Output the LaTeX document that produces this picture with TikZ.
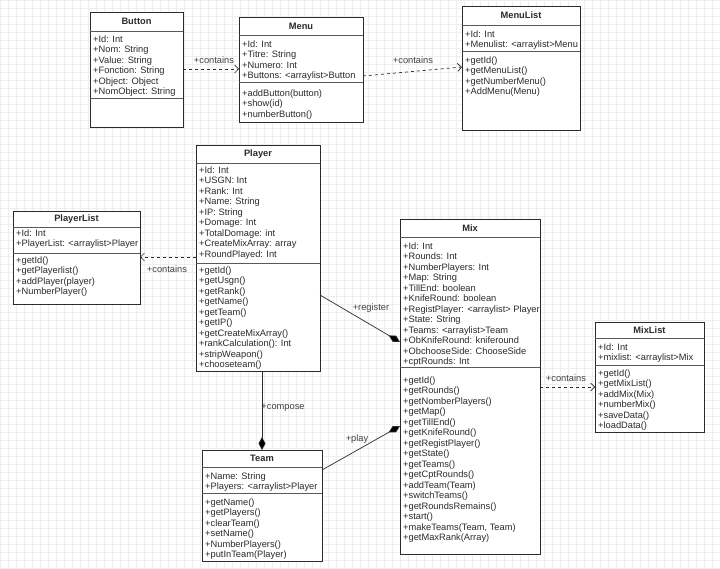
\documentclass[tikz,border=0pt]{standalone}
\usepackage{fontspec}
\setmainfont{Liberation Sans}
\usetikzlibrary{arrows.meta}
\definecolor{gridc}{HTML}{EEEEEE}
\definecolor{inkc}{HTML}{2B2B2B}
\tikzset{
  classbox/.style={draw=inkc, fill=white, line width=0.8pt, inner sep=0pt, outer sep=0pt, anchor=north west},
  sepline/.style={draw=black!65, line width=0.8pt},
  ctitle/.style={font=\fontsize{9.3}{10.5}\selectfont\bfseries, text=inkc, inner sep=0pt},
  members/.style={font=\fontsize{9.3}{10.5}\selectfont, text=inkc, align=left, inner sep=0pt, anchor=north west, yshift=-2.5pt, execute at begin node=\strut},
  lbl/.style={font=\fontsize{9.3}{10.5}\selectfont, text=black!75, inner sep=0pt},
  dep/.style={draw=inkc, line width=0.7pt, dash pattern=on 3pt off 3pt, -{Straight Barb[length=4pt,width=8pt]}},
  comp/.style={draw=inkc, line width=0.7pt, -{Diamond[length=13pt,width=7pt,fill=black]}},
}
\newcommand\umlclass[8]{%
  \node[classbox, minimum width=#4pt-#2pt, minimum height=#5pt-#3pt] (#1) at (#2,#3) {};
  \draw[sepline] (#2,#6) -- (#4,#6);
  \draw[sepline] (#2,#7) -- (#4,#7);
  \node[ctitle] (#1-t) at ({(#2+#4)/2},{(#3+#6)/2}) {#8};
}
\begin{document}
\begin{tikzpicture}[x=1pt,y=-1pt]
\useasboundingbox (0,0) rectangle (720,569);
\fill[white] (0,0) rectangle (720,569);
\begin{scope}[y=1pt]
  \draw[gridc, line width=0.4pt, step=8] (0,-569) grid (720,0);
\end{scope}

% Button
\umlclass{button}{90}{12}{183}{127}{31}{98}{Button}
\node[members] (button-a) at (93,33) {+Id: Int\\+Nom: String\\+Value: String\\+Fonction: String\\+Object: Object\\+NomObject: String};

% Menu
\umlclass{menu}{239}{17}{363}{122}{35}{82}{Menu}
\node[members] (menu-a) at (242,38) {+Id: Int\\+Titre: String\\+Numero: Int\\+Buttons: <arraylist>Button};
\node[members] (menu-m) at (242,87) {+addButton(button)\\+show(id)\\+numberButton()};

% MenuList
\umlclass{menulist}{462}{6}{580}{130}{25}{51}{MenuList}
\node[members] (menulist-a) at (465,28) {+Id: Int\\+Menulist: <arraylist>Menu};
\node[members] (menulist-m) at (465,54) {+getId()\\+getMenuList()\\+getNumberMenu()\\+AddMenu(Menu)};

% Player
\umlclass{player}{196}{145}{320}{371}{163}{263}{Player}
\node[members] (player-a) at (199,164) {+Id: Int\\+USGN: Int\\+Rank: Int\\+Name: String\\+IP: String\\+Domage: Int\\+TotalDomage: int\\+CreateMixArray: array\\+RoundPlayed: Int};
\node[members] (player-m) at (199,264) {+getId()\\+getUsgn()\\+getRank()\\+getName()\\+getTeam()\\+getIP()\\+getCreateMixArray()\\+rankCalculation(): Int\\+stripWeapon()\\+chooseteam()};

% PlayerList
\umlclass{playerlist}{13}{211}{140}{304}{227}{253}{PlayerList}
\node[members] (playerlist-a) at (16,227) {+Id: Int\\+PlayerList: <arraylist>Player};
\node[members] (playerlist-m) at (16,254) {+getId()\\+getPlayerlist()\\+addPlayer(player)\\+NumberPlayer()};

% Mix
\umlclass{mix}{400}{219}{540}{554}{237}{367}{Mix}
\node[members] (mix-a) at (403,240) {+Id: Int\\+Rounds: Int\\+NumberPlayers: Int\\+Map: String\\+TillEnd: boolean\\+KnifeRound: boolean\\+RegistPlayer: <arraylist> Player\\+State: String\\+Teams: <arraylist>Team\\+ObKnifeRound: kniferound\\+ObchooseSide: ChooseSide\\+cptRounds: Int};
\node[members] (mix-m) at (403,374) {+getId()\\+getRounds()\\+getNomberPlayers()\\+getMap()\\+getTillEnd()\\+getKnifeRound()\\+getRegistPlayer()\\+getState()\\+getTeams()\\+getCptRounds()\\+addTeam(Team)\\+switchTeams()\\+getRoundsRemains()\\+start()\\+makeTeams(Team, Team)\\+getMaxRank(Array)};

% MixList
\umlclass{mixlist}{595}{322}{704}{432}{338}{365}{MixList}
\node[members] (mixlist-a) at (598,341) {+Id: Int\\+mixlist: <arraylist>Mix};
\node[members] (mixlist-m) at (598,367) {+getId()\\+getMixList()\\+addMix(Mix)\\+numberMix()\\+saveData()\\+loadData()};

% Team
\umlclass{team}{202}{450}{322}{561}{467}{493}{Team}
\node[members] (team-a) at (205,470) {+Name: String\\+Players: <arraylist>Player};
\node[members] (team-m) at (205,496) {+getName()\\+getPlayers()\\+clearTeam()\\+setName()\\+NumberPlayers()\\+putInTeam(Player)};

% Connectors
\draw[dep] ([yshift=-57pt]button.north east) -- ([yshift=-52pt]menu.north west);
\node[lbl] (lbl-bm) at (214,60) {+contains};
\draw[dep] ([yshift=-59pt]menu.north east) -- ([yshift=-61pt]menulist.north west);
\node[lbl] (lbl-mm) at (413,60) {+contains};
\draw[dep] ([yshift=-112pt]player.north west) -- ([yshift=-46pt]playerlist.north east);
\node[lbl] (lbl-pp) at (167,269) {+contains};
\draw[comp] ([yshift=-150pt]player.north east) -- ([yshift=-123pt]mix.north west);
\node[lbl] (lbl-reg) at (371,308) {+register};
\draw[comp] (player.south -| team.north) -- (team.north);
\node[lbl] (lbl-comp) at (283,408) {+compose};
\draw[comp] ([yshift=-20pt]team.north east) -- ([yshift=-207pt]mix.north west);
\node[lbl] (lbl-play) at (357,439) {+play};
\draw[dep] ([yshift=-168pt]mix.north east) -- ([yshift=-65pt]mixlist.north west);
\node[lbl] (lbl-mx) at (566,378) {+contains};
\end{tikzpicture}
\end{document}
